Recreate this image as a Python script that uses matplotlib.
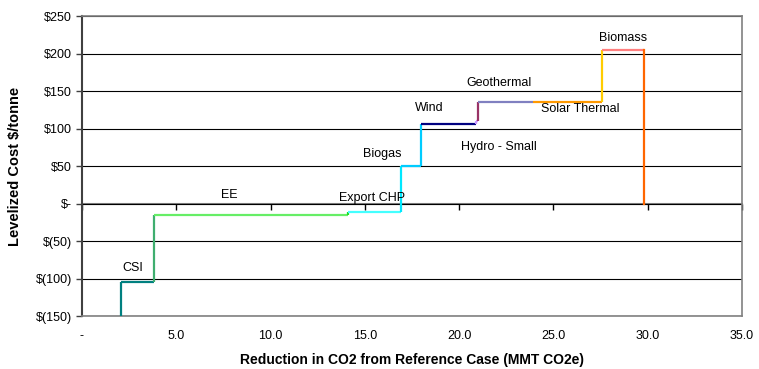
import matplotlib.pyplot as plt
from matplotlib.ticker import FuncFormatter

plt.rcParams["font.family"] = ["Liberation Sans", "DejaVu Sans"]

# Abatement supply curve: measures in merit order
measures = ["CSI", "EE", "Export CHP", "Biogas", "Wind", "Hydro - Small",
            "Geothermal", "Solar Thermal", "Biomass"]
start_mmt = 2.06
end_mmt = [3.81, 14.1, 16.9, 18.0, 20.9, 21.0, 23.9, 27.55, 29.8]
cost = [-105, -15, -11, 50, 106, 110, 135, 135, 205]

riser_colors = ["#008080", "#3fae6f", "#22dd22", "#00e8ff", "#00ccff",
                "#cc99ff", "#993366", "#ff9900", "#ffcc00"]
tread_colors = ["#008080", "#66ee66", "#44ffff", "#00ccff", "#000080",
                "#cc99ff", "#8080c0", "#ff9900", "#ff7f7f"]
drop_color = "#ff6600"

# label anchor points (data coords)
label_x = [2.7, 7.8, 15.4, 15.9, 18.4, 22.1, 22.1, 26.4, 28.7]
label_y = [-86, 11, 7, 66, 127, 76, 161, 126, 221]

fig = plt.figure(figsize=(7.59, 3.69), dpi=100)
ax = fig.add_axes([0.108, 0.1436, 0.8696, 0.813])

ymin, ymax = -150, 250
prev = ymin
x0 = start_mmt
for i in range(len(measures)):
    x1 = end_mmt[i]
    ax.plot([x0, x0], [prev, cost[i]], color=riser_colors[i], lw=1.6,
            solid_capstyle="butt", zorder=3)
    ax.plot([x0, x1], [cost[i], cost[i]], color=tread_colors[i], lw=1.6,
            solid_capstyle="butt", zorder=3)
    prev = cost[i]
    x0 = x1
# last measure drops back to zero
ax.plot([x0, x0], [prev, 0], color=drop_color, lw=1.6, zorder=3)

for name, lx, ly in zip(measures, label_x, label_y):
    ax.text(lx, ly, name, ha="center", va="center", fontsize=9, zorder=4)

ax.set_xlim(0, 35)
ax.set_ylim(ymin, ymax)
ax.set_yticks(range(-150, 251, 50))
ax.set_xticks(range(0, 36, 5))


def money(v, pos):
    if v == 0:
        return "$-"
    if v < 0:
        return "$(%d)" % abs(v)
    return "$%d" % v


def mmt(v, pos):
    return "-" if v == 0 else "%.1f" % v


ax.yaxis.set_major_formatter(FuncFormatter(money))
ax.xaxis.set_major_formatter(FuncFormatter(mmt))
ax.tick_params(axis="y", labelsize=9, length=4, width=1, color="#404040", pad=3)
ax.tick_params(axis="x", labelsize=9, length=0, pad=10)

ax.yaxis.grid(True, color="black", lw=0.8)
ax.set_axisbelow(True)

for side in ["top", "right", "bottom"]:
    ax.spines[side].set_color("#808080")
    ax.spines[side].set_linewidth(1.2)
ax.spines["left"].set_color("#404040")
ax.spines["left"].set_linewidth(1.5)

# zero line carrying the x tick marks
zero_pos = (0 - ymin) / (ymax - ymin)
sec = ax.secondary_xaxis(zero_pos)
sec.set_xticks(range(0, 36, 5))
sec.tick_params(axis="x", direction="out", length=4, width=1,
                color="black", labelbottom=False, labeltop=False,
                bottom=True, top=False)
sec.spines["bottom"].set_color("#808080")
sec.spines["bottom"].set_linewidth(1.5)
sec.spines["top"].set_visible(False)

ax.set_xlabel("Reduction in CO2 from Reference Case (MMT CO2e)",
              fontsize=10, fontweight="bold", labelpad=8)
ax.set_ylabel("Levelized Cost $/tonne", fontsize=10.5, fontweight="bold",
              labelpad=10)

fig.savefig("out.png", dpi=100)
